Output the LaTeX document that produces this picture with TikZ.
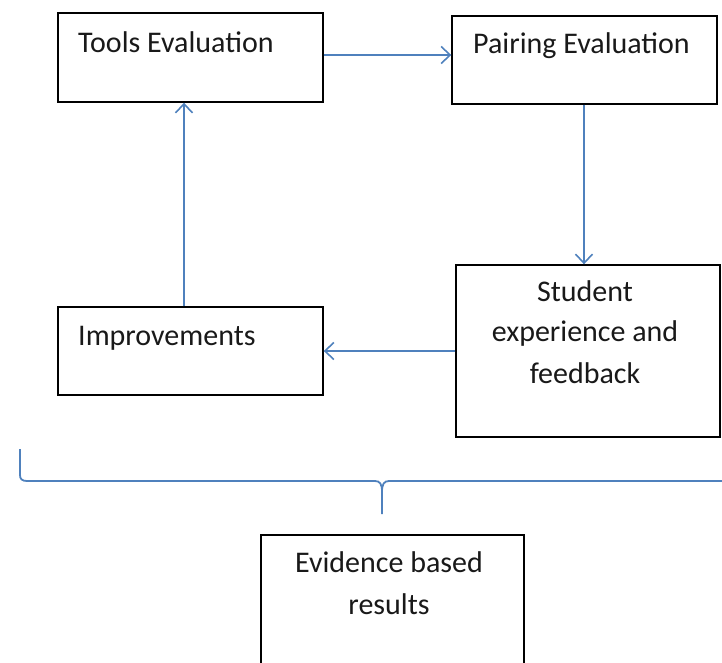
\documentclass[tikz,border=0pt]{standalone}
\usepackage{fontspec}
\setmainfont{Carlito}
\usetikzlibrary{arrows.meta}
\definecolor{obl}{HTML}{4F81BD}
\tikzset{
  box/.style={draw=black, line width=1.4pt, inner sep=0pt},
  lbl/.style={inner sep=0pt, font=\fontsize{30}{34}\selectfont, text=black!90},
  flow/.style={draw=obl, line width=1.6pt, -{Straight Barb[length=9pt,width=17pt,line width=1.6pt]}},
  brace/.style={draw=obl, line width=1.8pt},
}
\begin{document}
\begin{tikzpicture}[x=1pt,y=-1pt]
\useasboundingbox (0,0) rectangle (722,662);
\clip (0,0) rectangle (722,662);
% boxes
\node[box, minimum width=265pt, minimum height=89pt] (tools) at (190.5,57.5) {};
\node[box, minimum width=265pt, minimum height=88pt] (pair) at (584.5,60) {};
\node[box, minimum width=264pt, minimum height=172pt] (stud) at (588,351) {};
\node[box, minimum width=265pt, minimum height=88pt] (impr) at (190.5,351) {};
\node[box, minimum width=263pt, minimum height=150pt] (evid) at (392.5,610) {};
% texts
\node[lbl, anchor=base west] (tt) at (78,52) {Tools Evaluation};
\node[lbl, anchor=base west] (pt) at (473,53) {Pairing Evaluation};
\node[lbl, anchor=base west] (it) at (78,345) {Improvements};
\node[lbl, anchor=base] (st1) at (585,301) {Student};
\node[lbl, anchor=base] (st2) at (585,341) {experience and};
\node[lbl, anchor=base] (st3) at (585,383) {feedback};
\node[lbl, anchor=base] (et1) at (389,572) {Evidence based};
\node[lbl, anchor=base] (et2) at (389,614) {results};
% arrows
\draw[flow] (tools.east |- 0,55) -- (pair.west |- 0,55);
\draw[flow] (pair.south -| 584,0) -- (stud.north -| 584,0);
\draw[flow] (stud.west |- 0,351) -- (impr.east |- 0,351);
\draw[flow] (impr.north -| 184,0) -- (tools.south -| 184,0);
% brace
\coordinate (bl) at (20,449);
\coordinate (bm) at (382,514);
\coordinate (br) at (730,481);
\draw[brace] (bl) -- (20,475) .. controls (20,479) and (22,481) .. (27,481) -- (375,481)
  .. controls (380,481) and (382,484) .. (382,492) -- (bm);
\draw[brace] (382,492) .. controls (382,484) and (384,481) .. (389,481) -- (br);
\end{tikzpicture}
\end{document}
